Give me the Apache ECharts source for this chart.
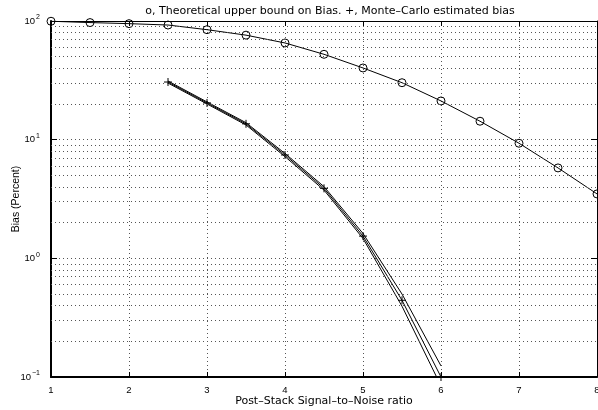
<!DOCTYPE html>
<html>
<head>
<meta charset="utf-8">
<script src="https://cdn.jsdelivr.net/npm/echarts@6/dist/echarts.min.js"></script>
<style>
  html, body { margin: 0; padding: 0; background: #fff; }
  #biasChart { width: 598px; height: 410px; }
</style>
</head>
<body>
<div id="biasChart"></div>
<script>
// theoretical upper bound (circles)
const snrTheory = [1, 1.5, 2, 2.5, 3, 3.5, 4, 4.5, 5, 5.5, 6, 6.5, 7, 7.5, 8];
const biasTheory = [99.5, 97, 95, 92.5, 84.5, 76, 65.3, 52.4, 40.2, 30.2, 21.2, 14.3, 9.33, 5.78, 3.49];

// monte-carlo estimate (+) with its two bounding curves
const snrMonteCarlo = [2.5, 3, 3.5, 4, 4.5, 5, 5.5, 6];
const biasMonteCarlo = [30.6, 20.4, 13.6, 7.43, 3.89, 1.54, 0.443, 0.100];
const biasMonteCarloUpper = [31.2, 20.8, 13.9, 7.65, 4.02, 1.62, 0.50, 0.124];
const biasMonteCarloLower = [30.0, 20.0, 13.3, 7.2, 3.76, 1.47, 0.395, 0.084];

// dotted minor grid of the log axis
const minorGridValues = [0.2, 0.3, 0.4, 0.5, 0.6, 0.7, 0.8, 0.9,
  2, 3, 4, 5, 6, 7, 8, 9, 20, 30, 40, 50, 60, 70, 80, 90];

const FONT = "'Liberation Sans', Arial, sans-serif";
const WIDE_FONT = "'DejaVu Sans', sans-serif";

function pairs(xs, ys) {
  return xs.map((x, i) => [x, ys[i]]);
}

const chart = echarts.init(document.getElementById('biasChart'));

const dotted = { color: '#555', type: [1, 3], width: 1 };

chart.setOption({
  animation: false,
  title: {
    text: 'o, Theoretical upper bound on Bias. +, Monte\u2013Carlo estimated bias',
    left: 325,
    top: 1,
    textAlign: 'center',
    textStyle: { fontSize: 11, fontWeight: 'normal', color: '#000', fontFamily: WIDE_FONT }
  },
  grid: { left: 51, right: 1, top: 21, bottom: 33, containLabel: false, outerBoundsMode: 'none' },
  xAxis: [
    {
      type: 'value',
      min: 1,
      max: 8,
      interval: 1,
      position: 'bottom',
      name: 'Post\u2013Stack Signal\u2013to\u2013Noise ratio',
      nameLocation: 'middle',
      nameGap: 19,
      nameMoveOverlap: false,
      nameTextStyle: { fontSize: 11, color: '#000', fontFamily: WIDE_FONT },
      axisLine: { onZero: false, lineStyle: { color: '#000', width: 2 } },
      axisTick: { inside: true, length: 5, lineStyle: { color: '#000' } },
      axisLabel: { color: '#000', fontSize: 9.5, margin: 8, fontFamily: FONT },
      splitLine: { show: true, lineStyle: dotted }
    },
    {
      type: 'value',
      min: 1,
      max: 8,
      interval: 1,
      position: 'top',
      axisLine: { onZero: false, lineStyle: { color: '#000', width: 1 } },
      axisTick: { inside: true, length: 5, lineStyle: { color: '#000' } },
      axisLabel: { show: false },
      splitLine: { show: false }
    }
  ],
  yAxis: [
    {
      type: 'log',
      logBase: 10,
      min: 0.1,
      max: 100,
      name: 'Bias (Percent)',
      nameLocation: 'middle',
      nameGap: 29,
      nameMoveOverlap: false,
      nameTextStyle: { fontSize: 10.5, color: '#000', fontFamily: FONT },
      axisLine: { show: true, onZero: false, lineStyle: { color: '#000', width: 2 } },
      axisTick: { show: true, inside: true, length: 6, lineStyle: { color: '#000' } },
      axisLabel: {
        margin: 11,
        color: '#000',
        fontSize: 9.5,
        fontFamily: FONT,
        formatter: function (v) {
          const e = Math.round(Math.log10(v));
          return '10{e|' + (e < 0 ? '\u2212' + (-e) : e) + '}';
        },
        rich: {
          e: { fontSize: 7, fontFamily: FONT, color: '#000', verticalAlign: 'top', padding: [0, 0, 7, 1] }
        }
      },
      splitLine: { show: true, lineStyle: dotted }
    },
    {
      type: 'log',
      logBase: 10,
      min: 0.1,
      max: 100,
      position: 'right',
      axisLine: { show: true, onZero: false, lineStyle: { color: '#000', width: 1 } },
      axisTick: { show: true, inside: true, length: 6, lineStyle: { color: '#000' } },
      axisLabel: { show: false },
      splitLine: { show: false }
    }
  ],
  series: [
    {
      name: 'theory',
      type: 'line',
      data: pairs(snrTheory, biasTheory),
      symbol: 'circle',
      symbolSize: 8,
      itemStyle: { color: 'rgba(0,0,0,0)', borderColor: '#000', borderWidth: 1 },
      lineStyle: { color: '#000', width: 1 },
      markLine: {
        silent: true,
        symbol: ['none', 'none'],
        label: { show: false },
        lineStyle: dotted,
        data: minorGridValues.map(v => ({ yAxis: v }))
      }
    },
    {
      name: 'upper',
      type: 'line',
      data: pairs(snrMonteCarlo, biasMonteCarloUpper),
      showSymbol: false,
      symbol: 'none',
      lineStyle: { color: '#000', width: 1 }
    },
    {
      name: 'lower',
      type: 'line',
      data: pairs(snrMonteCarlo, biasMonteCarloLower),
      showSymbol: false,
      symbol: 'none',
      lineStyle: { color: '#000', width: 1 }
    },
    {
      name: 'monte-carlo',
      type: 'line',
      data: pairs(snrMonteCarlo, biasMonteCarlo),
      symbol: 'path://M0,5L10,5M5,0L5,10',
      symbolSize: 8,
      itemStyle: { color: 'rgba(0,0,0,0)', borderColor: '#000', borderWidth: 1 },
      lineStyle: { color: '#000', width: 1 }
    }
  ]
});
</script>
</body>
</html>
